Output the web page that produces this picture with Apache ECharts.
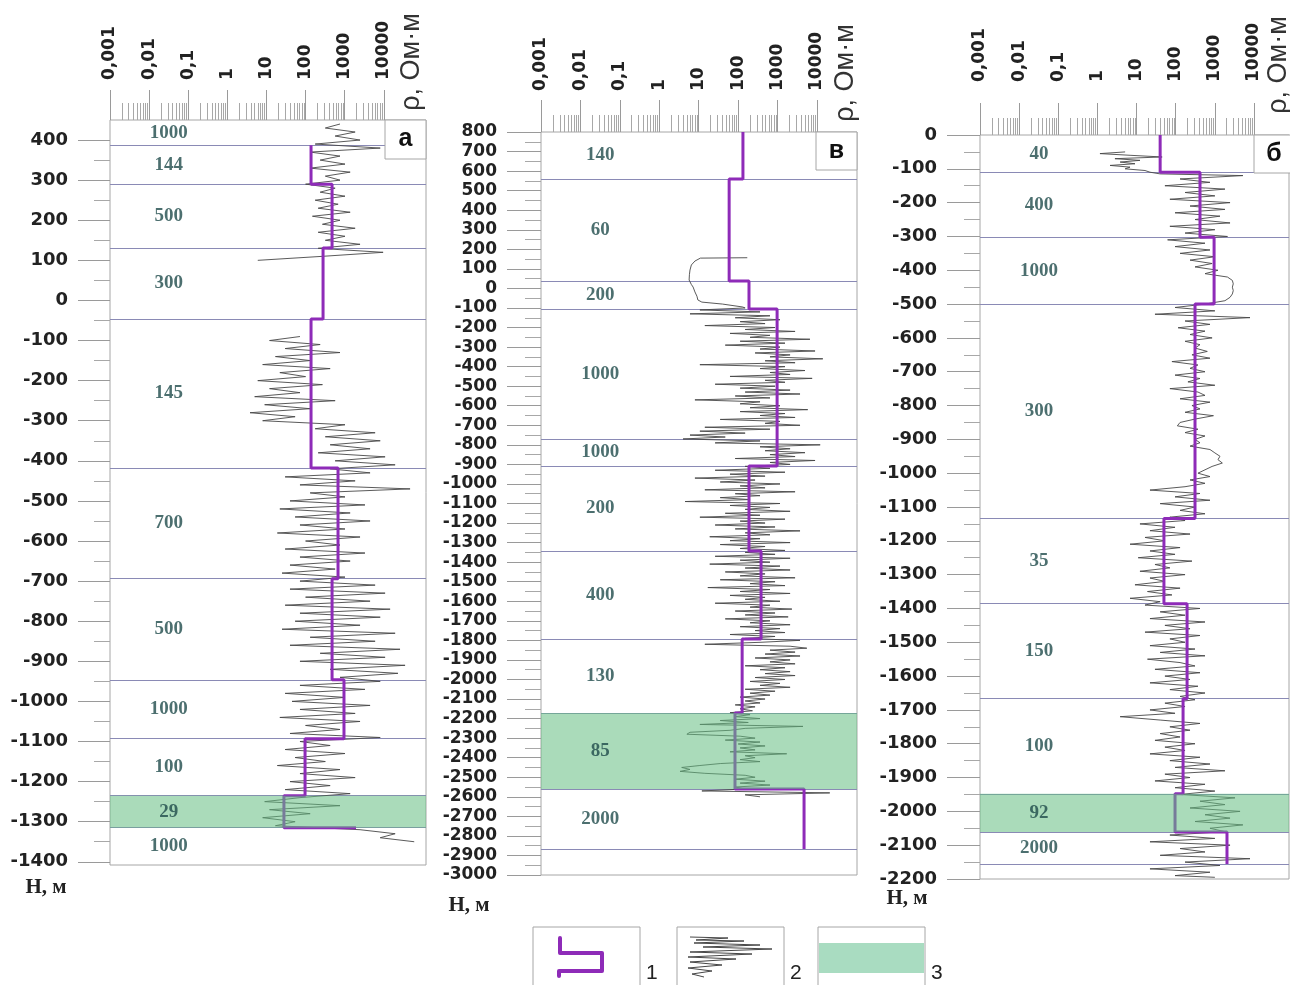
<!DOCTYPE html>
<html>
<head>
<meta charset="utf-8">
<title>Геоэлектрические разрезы</title>
<script src="https://cdn.jsdelivr.net/npm/echarts@6/dist/echarts.min.js"></script>
<style>
  html, body { margin: 0; padding: 0; background: #fff; }
  #chart { width: 1290px; height: 985px; }
</style>
</head>
<body>
<div id="chart"></div>
<script>
// ---------- данные ----------
// шкала сопротивлений (верхняя ось)
const rhoTicks = [0.001, 0.01, 0.1, 1, 10, 100, 1000, 10000]
const rhoTickLabels = ['0,001', '0,01', '0,1', '1', '10', '100', '1000', '10000']

// скважина а
const depthTicksA = [400, 300, 200, 100, 0, -100, -200, -300, -400, -500, -600, -700, -800, -900, -1000, -1100, -1200, -1300, -1400]
const boundsA = [387, 290, 131, -46, -418, -694, -946, -1093, -1235, -1315]
const layerLabelsA = ['1000', '144', '500', '300', '145', '700', '500', '1000', '100', '29', '1000']
const stepDepthsA = [387, 290, 131, -46, -418, -694, -946, -1093, -1235, -1315]
const stepValuesA = [138, 476, 280, 138, 676, 476, 960, 97, 28, 1950]
const bandA = [-1235, -1315]
// каротаж [глубина, ρ]
const logTopA = [[440,760],[430,320],[420,1850],[410,570],[400,2470],[390,176],[380,8100],[370,131],[360,760],[350,236],[340,1020],[330,131],[320,1380],[310,320],[300,760],[290,100],[280,570],[270,236],[260,1020],[250,176],[240,680],[230,210],[220,1380],[210,150],[200,760],[190,270],[180,1850],[170,210],[160,1020],[150,320],[140,2470],[130,210],[120,9600],[110,270],[100,6]]
const logA = [[-90,72],[-100,12],[-110,236],[-120,30],[-130,760],[-140,17],[-150,131],[-160,8],[-170,425],[-180,22],[-190,100],[-200,6],[-210,270],[-220,12],[-230,72],[-240,5],[-250,570],[-260,9],[-270,131],[-280,3.8],[-290,54],[-300,8],[-310,1020],[-320,176],[-330,6000],[-340,320],[-350,8100],[-360,425],[-370,4460],[-380,210],[-390,10800],[-400,570],[-410,19500],[-420,425],[-430,4460],[-440,30],[-450,1850],[-460,72],[-470,47000],[-480,131],[-490,1020],[-500,40],[-510,3300],[-520,22],[-530,1380],[-540,54],[-550,4460],[-560,72],[-570,1020],[-580,19],[-590,2470],[-600,100],[-610,760],[-620,30],[-630,3300],[-640,72],[-650,1380],[-660,40],[-670,570],[-680,25],[-690,1020],[-700,72],[-710,6000],[-720,40],[-730,10800],[-740,100],[-750,4460],[-760,30],[-770,14500],[-780,72],[-790,8100],[-800,54],[-810,2470],[-820,25],[-830,19500],[-840,131],[-850,6000],[-860,40],[-870,26000],[-880,236],[-890,10800],[-900,72],[-910,35000],[-920,425],[-930,23000],[-940,760],[-950,8100],[-960,72],[-970,3300],[-980,30],[-990,1020],[-1000,45],[-1010,4460],[-1020,72],[-1030,1850],[-1040,22],[-1050,2470],[-1060,100],[-1070,760],[-1080,40],[-1090,8100],[-1100,72],[-1110,425],[-1120,30],[-1130,1020],[-1140,54],[-1150,320],[-1160,19],[-1170,760],[-1180,72],[-1190,1850],[-1200,40],[-1210,425],[-1220,30],[-1230,1380],[-1240,72],[-1250,9],[-1260,760],[-1270,12],[-1280,131],[-1290,8],[-1300,54],[-1310,17],[-1320,2470],[-1330,19500],[-1340,8100],[-1350,60000]]

// скважина в
const depthTicksV = [800, 700, 600, 500, 400, 300, 200, 100, 0, -100, -200, -300, -400, -500, -600, -700, -800, -900, -1000, -1100, -1200, -1300, -1400, -1500, -1600, -1700, -1800, -1900, -2000, -2100, -2200, -2300, -2400, -2500, -2600, -2700, -2800, -2900, -3000]
const boundsV = [560, 38, -105, -770, -908, -1343, -1793, -2171, -2560, -2867]
const layerLabelsV = ['140', '60', '200', '1000', '1000', '200', '400', '130', '85', '2000', '']
const stepDepthsV = [800, 560, 38, -105, -908, -1343, -1793, -2171, -2560, -2867]
const stepValuesV = [132, 59, 188, 970, 188, 380, 126, 83, 4680]
const bandV = [-2171, -2560]
const logV = [[157,170],[155,11],[140,8],[120,6.5],[94,6],[70,5.8],[43,5.7],[20,6.5],[7,7.2],[-18,8],[-40,9],[-59,9.5],[-70,12],[-80,40],[-95,130],
    [-100,150],[-110,10.7],[-120,358],[-130,6],[-140,640],[-150,84],[-160,1150],[-170,112],[-180,480],[-190,14.3],[-200,860],[-210,150],[-220,2770],[-230,62],[-240,640],[-250,200],[-260,6600],[-270,112],[-280,1540],[-290,47],[-300,1150],[-310,358],[-320,8900],[-330,268],[-340,2070],[-350,640],[-360,14000],[-370,480],[-380,2770],[-390,10.7],[-400,1540],[-410,358],[-420,4950],[-430,640],[-440,2070],[-450,62],[-460,7500],[-470,480],[-480,1540],[-490,26],[-500,860],[-510,112],[-520,2070],[-530,150],[-540,3700],[-550,84],[-560,640],[-570,8],[-580,358],[-590,112],[-600,1150],[-610,200],[-620,5800],[-630,112],[-640,1540],[-650,358],[-660,2770],[-670,35],[-680,1150],[-690,480],[-700,3700],[-710,14.3],[-720,640],[-730,10.7],[-740,150],[-750,6],[-760,47],[-770,4],[-780,358],[-790,26],[-800,12000],[-810,358],[-820,2070],[-830,480],[-840,4950],[-850,640],[-860,2770],[-870,84],[-880,8900],[-890,640],[-900,2070],[-910,150],[-920,640],[-930,26],[-940,1540],[-950,62],[-960,480],[-970,8],[-980,268],[-990,35],[-1000,1150],[-1010,112],[-1020,480],[-1030,14.3],[-1040,2770],[-1050,84],[-1060,358],[-1070,35],[-1080,200],[-1090,4.5],[-1100,1150],[-1110,62],[-1120,640],[-1130,150],[-1140,2070],[-1150,47],[-1160,358],[-1170,10.7],[-1180,1540],[-1190,112],[-1200,480],[-1210,26],[-1220,860],[-1230,84],[-1240,3700],[-1250,150],[-1260,640],[-1270,19],[-1280,358],[-1290,62],[-1300,2070],[-1310,35],[-1320,480],[-1330,112],[-1340,1540],[-1350,150],[-1360,860],[-1370,26],[-1380,2070],[-1390,112],[-1400,640],[-1410,19],[-1420,1150],[-1430,150],[-1440,2070],[-1450,47],[-1460,480],[-1470,112],[-1480,2770],[-1490,35],[-1500,860],[-1510,200],[-1520,1540],[-1530,17],[-1540,640],[-1550,112],[-1560,2070],[-1570,62],[-1580,480],[-1590,150],[-1600,1150],[-1610,26],[-1620,640],[-1630,200],[-1640,2300],[-1650,84],[-1660,860],[-1670,150],[-1680,1850],[-1690,47],[-1700,640],[-1710,200],[-1720,2070],[-1730,112],[-1740,1150],[-1750,268],[-1760,1540],[-1770,62],[-1780,860],[-1790,150],[-1800,3700],[-1810,358],[-1820,14.3],[-1830,2070],[-1840,5500],[-1850,640],[-1860,2770],[-1870,480],[-1880,3700],[-1890,268],[-1900,2070],[-1910,640],[-1920,2770],[-1930,150],[-1940,1540],[-1950,358],[-1960,2070],[-1970,480],[-1980,2770],[-1990,268],[-2000,1540],[-2010,200],[-2020,1150],[-2030,358],[-2040,2070],[-2050,150],[-2060,860],[-2070,200],[-2080,640],[-2090,112],[-2100,480],[-2110,150],[-2120,358],[-2130,84],[-2140,268],[-2150,112],[-2160,230],[-2170,62],[-2180,200],[-2190,84],[-2200,358],[-2210,35],[-2220,180],[-2230,10.7],[-2240,4400],[-2250,150],[-2260,62],[-2270,6],[-2280,5],[-2290,112],[-2300,268],[-2310,47],[-2320,358],[-2330,100],[-2340,480],[-2350,112],[-2360,268],[-2370,62],[-2380,1700],[-2390,150],[-2400,268],[-2410,112],[-2420,358],[-2430,35],[-2440,10.7],[-2450,3.7],[-2460,6],[-2470,3.35],[-2480,14.3],[-2490,150],[-2500,268],[-2510,84],[-2520,480],[-2530,112],[-2540,640],[-2550,84],[-2560,150],[-2570,12],[-2580,21000],[-2590,150],[-2600,358]]

// скважина б
const depthTicksB = [0, -100, -200, -300, -400, -500, -600, -700, -800, -900, -1000, -1100, -1200, -1300, -1400, -1500, -1600, -1700, -1800, -1900, -2000, -2100, -2200]
const boundsB = [-110, -302, -500, -1134, -1386, -1667, -1948, -2061, -2156]
const layerLabelsB = ['40', '400', '1000', '300', '35', '150', '100', '92', '2000', '']
const stepDepthsB = [0, -110, -302, -500, -1134, -1386, -1667, -1948, -2061, -2156]
const stepValuesB = [40, 417, 955, 311, 50, 195, 154, 96, 2040]
const bandB = [-1948, -2061]
const logB = [[-50,5.1],[-55,1.16],[-60,6.8],[-65,45],[-70,2.8],[-75,12.2],[-80,3.8],[-85,9.1],[-90,2.1],[-95,6.8],[-100,5.1],[-105,16.4],[-110,22],[-115,40],[-120,5200],[-130,129],[-140,750],[-150,53],[-160,1810],[-170,173],[-180,1000],[-190,71],[-200,2440],[-210,232],[-220,1810],[-230,96],[-240,1350],[-250,311],[-260,2440],[-270,71],[-280,1000],[-290,173],[-300,2100],[-310,62],[-320,560],[-330,96],[-340,750],[-350,129],[-360,1000],[-370,232],[-380,850],[-390,311],[-400,1200],[-410,560],[-420,2100],[-430,2800],[-440,2950],[-450,2800],[-460,2950],[-470,2800],[-480,2440],[-490,1810],[-500,560],[-510,96],[-520,1000],[-530,29.5],[-540,7900],[-550,173],[-560,750],[-570,115],[-580,560],[-590,232],[-600,850],[-610,173],[-620,417],[-630,311],[-640,640],[-650,260],[-660,750],[-670,80],[-680,370],[-690,232],[-700,560],[-710,96],[-720,417],[-730,205],[-740,1000],[-750,71],[-760,370],[-770,560],[-780,129],[-790,750],[-800,260],[-810,417],[-820,173],[-830,920],[-840,311],[-850,129],[-860,110],[-870,370],[-880,173],[-890,560],[-900,311],[-910,417],[-920,232],[-930,750],[-940,1000],[-950,1350],[-960,1200],[-970,1550],[-980,850],[-990,560],[-1000,370],[-1010,750],[-1020,232],[-1030,560],[-1040,173],[-1050,22],[-1060,417],[-1070,96],[-1080,750],[-1090,40],[-1100,311],[-1110,129],[-1120,560],[-1130,71],[-1140,173],[-1150,12.2],[-1160,96],[-1170,22],[-1180,232],[-1190,16.4],[-1200,53],[-1210,6.8],[-1220,129],[-1230,22],[-1240,96],[-1250,11],[-1260,260],[-1270,29.5],[-1280,71],[-1290,12.2],[-1300,173],[-1310,22],[-1320,53],[-1330,9.1],[-1340,129],[-1350,19],[-1360,80],[-1370,6.8],[-1380,40],[-1390,16.4],[-1400,417],[-1410,40],[-1420,173],[-1430,22],[-1440,560],[-1450,53],[-1460,232],[-1470,16.4],[-1480,417],[-1490,71],[-1500,173],[-1510,22],[-1520,311],[-1530,40],[-1540,560],[-1550,19],[-1560,129],[-1570,311],[-1580,29.5],[-1590,417],[-1600,53],[-1610,232],[-1620,22],[-1630,370],[-1640,71],[-1650,560],[-1660,129],[-1670,311],[-1680,53],[-1690,173],[-1700,22],[-1710,96],[-1720,3.8],[-1730,40],[-1740,417],[-1750,71],[-1760,232],[-1770,40],[-1780,129],[-1790,29.5],[-1800,311],[-1810,53],[-1820,173],[-1830,22],[-1840,417],[-1850,71],[-1860,750],[-1870,96],[-1880,1810],[-1890,53],[-1900,232],[-1910,29.5],[-1920,560],[-1930,96],[-1940,1000],[-1950,129],[-1960,3270],[-1970,417],[-1980,1810],[-1990,232],[-2000,4400],[-2010,560],[-2020,2440],[-2030,311],[-2040,5200],[-2050,750],[-2060,1810],[-2070,71],[-2080,1000],[-2090,22],[-2100,2440],[-2110,129],[-2120,560],[-2130,40],[-2140,7900],[-2150,173],[-2160,1350],[-2170,22],[-2180,750],[-2190,96],[-2195,1000]]

// ---------- оформление ----------
const PURPLE = '#8e2bb8'
const GRAY = '#474747'
const FRAME = '#a6a6a6'
const LABEL_RHO = 0.032

const panels = [
    {
        letter: 'а', grid: {left: 110, top: 120, width: 316, height: 745},
        xMax: 1.2e5, yMin: -1408, yMax: 450,
        depthTicks: depthTicksA, bounds: boundsA, labels: layerLabelsA,
        stepDepths: stepDepthsA, stepValues: stepValuesA, band: bandA, logs: [logTopA, logA],
        yTickLen: 32, yLabelMargin: 42, yFont: 18, xTickLen: 30, xLabelMargin: 40,
        box: [385, 120, 41, 39], rhoTitle: [412, 62], hTitle: [46, 888]
    },
    {
        letter: 'в', grid: {left: 541, top: 132, width: 316, height: 743},
        xMax: 1.03e5, yMin: -3000, yMax: 800,
        depthTicks: depthTicksV, bounds: boundsV, labels: layerLabelsV,
        stepDepths: stepDepthsV, stepValues: stepValuesV, band: bandV, logs: [logV],
        yTickLen: 34, yLabelMargin: 44, yFont: 17, xTickLen: 32, xLabelMargin: 41,
        box: [816, 132, 41, 38], rhoTitle: [846, 73], hTitle: [469, 906]
    },
    {
        letter: 'б', grid: {left: 980, top: 135, width: 309, height: 744},
        xMax: 7.83e4, yMin: -2200, yMax: 0,
        depthTicks: depthTicksB, bounds: boundsB, labels: layerLabelsB,
        stepDepths: stepDepthsB, stepValues: stepValuesB, band: bandB, logs: [logB],
        yTickLen: 33, yLabelMargin: 43, yFont: 18, xTickLen: 32, xLabelMargin: 53,
        box: [1254, 135, 40, 38], rhoTitle: [1279, 65], hTitle: [907, 899]
    }
]

// ступенчатая кривая модели
function stepPoints (depths, values) {
    const pts = []
    values.forEach((v, i) => {
        pts.push([v, depths[i]])
        if (i + 1 < depths.length) pts.push([v, depths[i + 1]])
    })
    return pts
}

// положения делений логарифмической шкалы
const majorPos = rhoTicks.map(t => Math.log10(t))
const minorPos = []
rhoTicks.slice(0, -1).forEach(t => {
    for (let k = 2; k <= 9; k++) minorPos.push(Math.log10(k * t))
})

const grids = []
const xAxes = []
const yAxes = []
const series = []
const graphics = []
const noLine = {show: false, onZero: false}

panels.forEach((p, i) => {
    grids.push(Object.assign({
        show: true, borderColor: FRAME, borderWidth: 1,
        backgroundColor: 'transparent', containLabel: false, outerBoundsMode: 'none'
    }, p.grid))

    const logMax = Math.log10(p.xMax)
    // ось данных (логарифмическая)
    xAxes.push({type: 'log', logBase: 10, gridIndex: i, min: 0.001, max: p.xMax, show: false, axisLine: noLine})
    // деления и подписи шкалы ρ
    xAxes.push({
        type: 'value', gridIndex: i, position: 'top', min: -3, max: logMax,
        axisLine: noLine, splitLine: {show: false},
        axisTick: {show: true, customValues: majorPos, length: p.xTickLen, lineStyle: {color: '#9a9a9a'}},
        axisLabel: {
            show: true, customValues: majorPos, rotate: -90, margin: p.xLabelMargin,
            formatter: v => rhoTickLabels[Math.round(v) + 3],
            fontFamily: 'DejaVu Sans', fontWeight: 'bold', fontSize: 17, color: '#222'
        }
    })
    xAxes.push({
        type: 'value', gridIndex: i, position: 'top', min: -3, max: logMax,
        axisLine: noLine, splitLine: {show: false}, axisLabel: {show: false},
        axisTick: {show: true, customValues: minorPos, length: 17, lineStyle: {color: '#a8a8a8'}}
    })

    const minorDepth = p.depthTicks.slice(0, -1).map((t, k) => (t + p.depthTicks[k + 1]) / 2)
    yAxes.push({
        type: 'value', gridIndex: i, position: 'left', min: p.yMin, max: p.yMax,
        axisLine: noLine, splitLine: {show: false},
        axisTick: {show: true, customValues: p.depthTicks, length: p.yTickLen, lineStyle: {color: '#9a9a9a'}},
        axisLabel: {
            show: true, customValues: p.depthTicks, margin: p.yLabelMargin,
            formatter: v => String(v),
            fontFamily: 'DejaVu Sans', fontWeight: 'bold', fontSize: p.yFont, color: '#222'
        }
    })
    yAxes.push({
        type: 'value', gridIndex: i, position: 'left', min: p.yMin, max: p.yMax,
        axisLine: noLine, splitLine: {show: false}, axisLabel: {show: false},
        axisTick: {show: true, customValues: minorDepth, length: 16, lineStyle: {color: '#a8a8a8'}}
    })

    const xi = 3 * i
    const yi = 2 * i
    // кривые каротажа
    p.logs.forEach(log => {
        series.push({
            type: 'line', xAxisIndex: xi, yAxisIndex: yi, z: 2, silent: true,
            symbol: 'none', showSymbol: false,
            lineStyle: {color: GRAY, width: 0.9},
            data: log.map(([d, r]) => [r, d])
        })
    })
    // модель, границы слоёв, выделенный пласт
    series.push({
        type: 'line', xAxisIndex: xi, yAxisIndex: yi, z: 4, silent: true,
        symbol: 'none', showSymbol: false,
        lineStyle: {color: PURPLE, width: 3},
        data: stepPoints(p.stepDepths, p.stepValues),
        markLine: {
            z: 1, silent: true, symbol: ['none', 'none'], label: {show: false},
            lineStyle: {color: '#8a8ab5', width: 1.2, type: 'solid'},
            data: p.bounds.map(d => ({yAxis: d}))
        },
        markArea: {
            z: 6, silent: true,
            itemStyle: {color: 'rgba(100, 190, 130, 0.55)'},
            data: [[{yAxis: p.band[0]}, {yAxis: p.band[1]}]]
        }
    })
    // сопротивления слоёв
    const edges = [p.yMax].concat(p.bounds, [p.yMin])
    series.push({
        type: 'scatter', xAxisIndex: xi, yAxisIndex: yi, z: 10, silent: true,
        symbolSize: 1, itemStyle: {color: 'rgba(0,0,0,0)'},
        data: p.labels.map((t, k) => [LABEL_RHO, (edges[k] + edges[k + 1]) / 2, t]).filter(d => d[2]),
        label: {
            show: true, position: 'inside', formatter: q => q.data[2],
            fontFamily: 'Liberation Serif', fontWeight: 'bold', fontSize: 19, color: '#1f4b4b'
        }
    })

    // подписи панели
    graphics.push({
        type: 'rect', z: 100,
        shape: {x: p.box[0], y: p.box[1], width: p.box[2], height: p.box[3]},
        style: {fill: '#fff', stroke: FRAME, lineWidth: 1}
    })
    graphics.push({
        type: 'text', z: 101, x: p.box[0] + p.box[2] / 2, y: p.box[1] + p.box[3] / 2,
        style: {text: p.letter, fontFamily: 'Liberation Sans', fontWeight: 'bold', fontSize: 25, fill: '#111', align: 'center', verticalAlign: 'middle'}
    })
    graphics.push({
        type: 'text', z: 101, x: p.rhoTitle[0], y: p.rhoTitle[1], rotation: Math.PI / 2,
        style: {text: 'ρ, Ом·м', fontFamily: 'Liberation Sans', fontSize: 27, fill: '#333', align: 'center', verticalAlign: 'middle'}
    })
    graphics.push({
        type: 'text', z: 101, x: p.hTitle[0], y: p.hTitle[1],
        style: {text: 'Н, м', fontFamily: 'Liberation Serif', fontWeight: 'bold', fontSize: 21, fill: '#222', align: 'center', verticalAlign: 'middle'}
    })
})

// условные обозначения
const legendBoxes = [[533, 927], [677, 927], [818, 927]]
const legendNums = ['1', '2', '3']
legendBoxes.forEach((b, k) => {
    graphics.push({
        type: 'rect', z: 100, shape: {x: b[0], y: b[1], width: 107, height: 70},
        style: {fill: '#fff', stroke: FRAME, lineWidth: 1}
    })
    graphics.push({
        type: 'text', z: 101, x: b[0] + 113, y: 973,
        style: {text: legendNums[k], fontFamily: 'Liberation Sans', fontSize: 21, fill: '#222', align: 'left', verticalAlign: 'middle'}
    })
})
graphics.push({
    type: 'polyline', z: 102,
    shape: {points: [[560, 938], [560, 953], [602, 953], [602, 971], [559, 971], [559, 976]]},
    style: {stroke: PURPLE, lineWidth: 4, fill: null, lineCap: 'round', lineJoin: 'round'}
})
graphics.push({
    type: 'polyline', z: 102,
    shape: {points: [[690, 937], [728, 938], [696, 940], [744, 941], [694, 943], [760, 945], [703, 947], [772, 949], [690, 952], [752, 954], [688, 957], [736, 959], [690, 962], [722, 965], [688, 968], [712, 971], [692, 974], [704, 977]]},
    style: {stroke: GRAY, lineWidth: 1, fill: null}
})
graphics.push({
    type: 'rect', z: 102, shape: {x: 819, y: 943, width: 105, height: 30},
    style: {fill: '#a9dcc1'}
})

const chart = echarts.init(document.getElementById('chart'))
chart.setOption({
    animation: false,
    backgroundColor: '#fff',
    grid: grids,
    xAxis: xAxes,
    yAxis: yAxes,
    series: series,
    graphic: graphics
})
window.onresize = () => {
    chart.resize()
}
</script>
</body>
</html>
